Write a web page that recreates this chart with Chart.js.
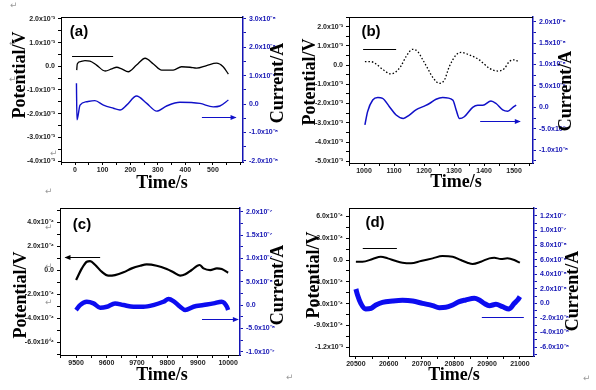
<!DOCTYPE html>
<html><head><meta charset="utf-8">
<script src="https://cdn.jsdelivr.net/npm/chart.js@4/dist/chart.umd.min.js"></script>
<style>
html,body{margin:0;padding:0;background:#fff;width:596px;height:390px;overflow:hidden;position:relative}
.p{position:absolute;width:298px;height:195px}
.mk{position:absolute;font:9px "DejaVu Sans";color:#9a9a9a;line-height:9px}
</style></head><body>
<div class="p" style="left:0;top:0"><canvas id="ca" width="298" height="195"></canvas></div>
<div class="p" style="left:298px;top:0"><canvas id="cb" width="298" height="195"></canvas></div>
<div class="p" style="left:0;top:195px"><canvas id="cc" width="298" height="195"></canvas></div>
<div class="p" style="left:298px;top:195px"><canvas id="cd" width="298" height="195"></canvas></div>
<span class="mk" style="left:10px;top:1px">↵</span>
<span class="mk" style="left:9px;top:39px">↵</span>
<span class="mk" style="left:9px;top:75px">↵</span>
<span class="mk" style="left:45px;top:110px">↵</span>
<span class="mk" style="left:50px;top:149px">↵</span>
<span class="mk" style="left:45px;top:187px">↵</span>
<span class="mk" style="left:45px;top:223px">↵</span>
<span class="mk" style="left:45px;top:262px">↵</span>
<span class="mk" style="left:45px;top:298px">↵</span>
<span class="mk" style="left:45px;top:336px">↵</span>
<span class="mk" style="left:286px;top:373px">↵</span>
<span class="mk" style="left:583px;top:374px">↵</span>
<script>
// ---------- Panel (a) ----------
const aPotTime = [6, 8, 20, 36, 54, 78, 109, 133, 151, 169, 193, 223, 254, 284, 314, 356, 386, 417, 441, 477, 513, 537, 556];
const aPotential = [-0.16e-3, 0.10e-3, 0.20e-3, 0.24e-3, 0.22e-3, 0.05e-3, -0.20e-3, -0.11e-3, -0.04e-3, -0.11e-3, -0.23e-3, 0.05e-3, 0.34e-3, 0.10e-3, -0.16e-3, -0.16e-3, -0.02e-3, -0.04e-3, -0.08e-3, 0.03e-3, 0.13e-3, -0.02e-3, -0.33e-3];
const aCurTime = [5, 7, 18, 42, 72, 103, 139, 163, 187, 223, 260, 296, 332, 380, 453, 501, 525, 556];
const aCurrent = [0.73e-8, -0.56e-8, -0.04e-8, 0.08e-8, 0.12e-8, -0.04e-8, -0.15e-8, -0.21e-8, -0.04e-8, 0.28e-8, 0.02e-8, -0.25e-8, -0.07e-8, 0.06e-8, 0.02e-8, -0.10e-8, -0.07e-8, 0.14e-8];
const aXTicks = [0, 100, 200, 300, 400, 500];
const aXLabels = ['0', '100', '200', '300', '400', '500'];
const aLeftTicks = [-4e-3, -3e-3, -2e-3, -1e-3, 0, 1e-3, 2e-3];
const aLeftLabels = ['-4.0x10⁻³', '-3.0x10⁻³', '-2.0x10⁻³', '-1.0x10⁻³', '0.0', '1.0x10⁻³', '2.0x10⁻³'];
const aRightTicks = [-2e-8, -1e-8, 0, 1e-8, 2e-8, 3e-8];
const aRightLabels = ['-2.0x10⁻⁸', '-1.0x10⁻⁸', '0.0', '1.0x10⁻⁸', '2.0x10⁻⁸', '3.0x10⁻⁸'];

// ---------- Panel (b) ----------
const bPotTime = [1003, 1023, 1040, 1062, 1090, 1107, 1123, 1140, 1162, 1179, 1196, 1212, 1229, 1251, 1268, 1284, 1307, 1323, 1351, 1384, 1418, 1446, 1468, 1484, 1501, 1512];
const bPotential = [0.18e-3, 0.18e-3, 0.06e-3, -0.22e-3, -0.46e-3, -0.34e-3, -0.05e-3, 0.44e-3, 0.82e-3, 0.70e-3, 0.27e-3, -0.17e-3, -0.64e-3, -0.95e-3, -0.77e-3, -0.08e-3, 0.53e-3, 0.66e-3, 0.53e-3, 0.27e-3, -0.17e-3, -0.31e-3, -0.17e-3, 0.18e-3, 0.27e-3, 0.21e-3];
const bCurTime = [1003, 1012, 1029, 1046, 1062, 1084, 1107, 1131, 1151, 1173, 1201, 1218, 1240, 1262, 1296, 1307, 1318, 1334, 1362, 1379, 1396, 1423, 1440, 1462, 1479, 1496, 1507];
const bCurrent = [-0.41e-8, -0.10e-8, 0.17e-8, 0.23e-8, 0.21e-8, 0.02e-8, -0.18e-8, -0.26e-8, -0.18e-8, -0.06e-8, 0.03e-8, 0.09e-8, 0.19e-8, 0.23e-8, 0.17e-8, -0.06e-8, -0.26e-8, -0.22e-8, 0.0, 0.05e-8, 0.05e-8, 0.15e-8, 0.09e-8, -0.06e-8, -0.09e-8, 0.0, 0.05e-8];
const bXTicks = [1000, 1100, 1200, 1300, 1400, 1500];
const bXLabels = ['1000', '1100', '1200', '1300', '1400', '1500'];
const bLeftTicks = [-5e-3, -4e-3, -3e-3, -2e-3, -1e-3, 0, 1e-3, 2e-3];
const bLeftLabels = ['-5.0x10⁻³', '-4.0x10⁻³', '-3.0x10⁻³', '-2.0x10⁻³', '-1.0x10⁻³', '0.0', '1.0x10⁻³', '2.0x10⁻³'];
const bRightTicks = [-1e-8, -0.5e-8, 0, 0.5e-8, 1e-8, 1.5e-8, 2e-8];
const bRightLabels = ['-1.0x10⁻⁸', '-5.0x10⁻⁹', '0.0', '5.0x10⁻⁹', '1.0x10⁻⁸', '1.5x10⁻⁸', '2.0x10⁻⁸'];

// ---------- Panel (c) ----------
const cPotTime = [9500, 9519, 9535, 9546, 9563, 9584, 9606, 9628, 9656, 9683, 9711, 9732, 9765, 9798, 9820, 9842, 9859, 9880, 9906, 9919, 9941, 9963, 9979, 10000];
const cPotential = [-0.83e-4, 0.14e-4, 0.69e-4, 0.75e-4, 0.42e-4, -0.14e-4, -0.47e-4, -0.42e-4, -0.19e-4, 0.14e-4, 0.36e-4, 0.47e-4, 0.36e-4, 0.08e-4, -0.19e-4, -0.47e-4, -0.36e-4, 0.0, 0.42e-4, 0.14e-4, 0.0, 0.14e-4, 0.08e-4, -0.22e-4];
const cCurTime = [9500, 9513, 9535, 9557, 9579, 9601, 9628, 9656, 9689, 9721, 9754, 9787, 9804, 9820, 9842, 9859, 9886, 9919, 9952, 9979, 9996, 10000];
const cCurrent = [-1.07e-8, 0, 0.71e-8, 0.36e-8, -0.57e-8, -0.36e-8, 0.36e-8, 0, -0.36e-8, -0.36e-8, 0, 0.71e-8, 1.29e-8, 0.86e-8, -0.36e-8, -1.07e-8, -0.36e-8, 0, 0.36e-8, 0.71e-8, -0.36e-8, -1.07e-8];
const cXTicks = [9500, 9600, 9700, 9800, 9900, 10000];
const cXLabels = ['9500', '9600', '9700', '9800', '9900', '10000'];
const cLeftTicks = [-6e-4, -4e-4, -2e-4, 0, 2e-4, 4e-4];
const cLeftLabels = ['-6.0x10⁻⁴', '-4.0x10⁻⁴', '-2.0x10⁻⁴', '0.0', '2.0x10⁻⁴', '4.0x10⁻⁴'];
const cRightTicks = [-1e-7, -5e-8, 0, 5e-8, 1e-7, 1.5e-7, 2e-7];
const cRightLabels = ['-1.0x10⁻⁷', '-5.0x10⁻⁸', '0.0', '5.0x10⁻⁸', '1.0x10⁻⁷', '1.5x10⁻⁷', '2.0x10⁻⁷'];

// ---------- Panel (d) ----------
const dPotTime = [20500, 20520, 20551, 20576, 20597, 20622, 20642, 20668, 20698, 20734, 20764, 20795, 20820, 20840, 20856, 20881, 20907, 20922, 20942, 20962, 20983, 21000];
const dPotential = [-0.23e-4, -0.23e-4, 0.14e-4, 0.46e-4, 0.23e-4, -0.14e-4, -0.37e-4, -0.46e-4, -0.14e-4, 0.23e-4, 0.55e-4, 0.46e-4, 0, -0.37e-4, -0.55e-4, -0.23e-4, 0.23e-4, 0.32e-4, 0.14e-4, 0.23e-4, 0, -0.37e-4];
const dCurTime = [20500, 20505, 20515, 20530, 20546, 20561, 20581, 20612, 20642, 20673, 20703, 20734, 20754, 20774, 20795, 20815, 20835, 20861, 20876, 20891, 20907, 20927, 20947, 20967, 20983, 20993, 21000];
const dCurrent = [1.97e-8, 1.14e-8, 0, -0.78e-8, -0.69e-8, -0.23e-8, 0.14e-8, 0.32e-8, 0.41e-8, 0.32e-8, 0, -0.32e-8, -0.59e-8, -0.55e-8, -0.23e-8, 0.23e-8, 0.46e-8, 0.69e-8, 0.46e-8, 0, -0.32e-8, -0.14e-8, -0.46e-8, -0.78e-8, 0, 0.46e-8, 0.92e-8];
const dXTicks = [20500, 20600, 20700, 20800, 20900, 21000];
const dXLabels = ['20500', '20600', '20700', '20800', '20900', '21000'];
const dLeftTicks = [-1.2e-3, -9e-4, -6e-4, -3e-4, 0, 3e-4, 6e-4];
const dLeftLabels = ['-1.2x10⁻³', '-9.0x10⁻⁴', '-6.0x10⁻⁴', '-3.0x10⁻⁴', '0.0', '3.0x10⁻⁴', '6.0x10⁻⁴'];
const dRightTicks = [-6e-8, -4e-8, -2e-8, 0, 2e-8, 4e-8, 6e-8, 8e-8, 1e-7, 1.2e-7];
const dRightLabels = ['-6.0x10⁻⁸', '-4.0x10⁻⁸', '-2.0x10⁻⁸', '0.0', '2.0x10⁻⁸', '4.0x10⁻⁸', '6.0x10⁻⁸', '8.0x10⁻⁸', '1.0x10⁻⁷', '1.2x10⁻⁷'];

const BLUE_AXIS = '#1414b4';

function tickValues(majors, min, max) {
  const h = (majors[1] - majors[0]) / 2, out = [];
  let k = Math.ceil((min - majors[0]) / h - 1e-9);
  for (;; k++) {
    const v = +(majors[0] + k * h).toPrecision(12);
    if (v > max + Math.abs(h) * 1e-9) break;
    out.push(v);
  }
  return out;
}
function labelFor(majors, labels, v) {
  const h = Math.abs(majors[1] - majors[0]);
  const i = majors.findIndex(m => Math.abs(m - v) < h * 1e-3);
  return i >= 0 ? labels[i] : '';
}

const panelText = {
  id: 'panelText',
  afterDraw(chart, args, o) {
    const ctx = chart.ctx, ca = chart.chartArea;
    ctx.save();
    // top frame line
    ctx.strokeStyle = '#000'; ctx.lineWidth = 1;
    ctx.beginPath(); ctx.moveTo(ca.left, ca.top + 0.5); ctx.lineTo(ca.right, ca.top + 0.5); ctx.stroke();
    ctx.fillStyle = '#000'; ctx.textAlign = 'center'; ctx.textBaseline = 'middle';
    ctx.font = 'bold 18px "Liberation Serif"';
    ctx.save(); ctx.translate(o.pot[0], o.pot[1]); ctx.rotate(-Math.PI / 2); ctx.fillText('Potential/V', 0, 0); ctx.restore();
    ctx.save(); ctx.translate(o.cur[0], o.cur[1]); ctx.rotate(-Math.PI / 2); ctx.fillText('Current/A', 0, 0); ctx.restore();
    ctx.font = 'bold 18px "Liberation Serif"';
    ctx.fillText('Time/s', o.time[0], o.time[1]);
    ctx.font = 'bold 15px "Liberation Sans"';
    ctx.fillText(o.letter, o.let[0], o.let[1]);
    // arrows (data coordinates through the scales)
    const xs = chart.scales.x;
    (o.arrows || []).forEach(a => {
      const ys = chart.scales[a.axis];
      const x1 = xs.getPixelForValue(a.x1), x2 = xs.getPixelForValue(a.x2), y = Math.round(ys.getPixelForValue(a.y)) + 0.5;
      ctx.strokeStyle = a.color; ctx.fillStyle = a.color; ctx.lineWidth = 1.2;
      ctx.beginPath(); ctx.moveTo(x1, y); ctx.lineTo(x2, y); ctx.stroke();
      if (a.head) {
        const d = x2 > x1 ? 1 : -1;
        ctx.beginPath(); ctx.moveTo(x2 + d * 1, y); ctx.lineTo(x2 - d * 5, y - 2.5); ctx.lineTo(x2 - d * 5, y + 2.5); ctx.closePath(); ctx.fill();
      }
    });
    ctx.restore();
  }
};

function makePanel(id, P) {
  const tickFont = {family: 'Liberation Sans', size: 7, weight: 'bold'};
  new Chart(document.getElementById(id), {
    type: 'line',
    data: {
      datasets: [
        {data: P.pt.map((t, i) => ({x: t, y: P.pv[i]})), yAxisID: 'y', borderColor: '#000', borderWidth: P.pw, borderDash: P.pdash || [],
         pointRadius: 0, cubicInterpolationMode: 'monotone', fill: false},
        {data: P.ct.map((t, i) => ({x: t, y: P.cv[i]})), yAxisID: 'y1', borderColor: P.blue, borderWidth: P.cw,
         pointRadius: 0, cubicInterpolationMode: 'monotone', fill: false}
      ]
    },
    options: {
      responsive: false, animation: false, devicePixelRatio: 1,
      layout: {padding: {top: P.top, left: 0, right: 0, bottom: 0}},
      plugins: {legend: {display: false}, tooltip: {enabled: false}, panelText: P.text},
      scales: {
        x: {
          type: 'linear', min: P.xr[0], max: P.xr[1], bounds: 'data',
          afterBuildTicks: s => { s.ticks = tickValues(P.xt, P.xr[0], P.xr[1]).map(v => ({value: v})); },
          afterFit: s => { s.height = P.xh; },
          ticks: {autoSkip: false, maxRotation: 0, padding: 1, font: tickFont, color: '#222',
                  callback: v => labelFor(P.xt, P.xl, v)},
          grid: {display: true, drawOnChartArea: false, tickLength: 3, color: '#000'},
          border: {display: true, color: '#000', width: 1}
        },
        y: {
          type: 'linear', position: 'left', min: P.yr[0], max: P.yr[1], bounds: 'data',
          afterBuildTicks: s => { s.ticks = tickValues(P.yt, P.yr[0], P.yr[1]).map(v => ({value: v})); },
          afterFit: s => { s.width = P.lw; },
          ticks: {autoSkip: false, padding: 3, font: tickFont, color: '#222',
                  callback: v => labelFor(P.yt, P.yl, v)},
          grid: {display: true, drawOnChartArea: false, tickLength: 3, color: '#000'},
          border: {display: true, color: '#000', width: 1}
        },
        y1: {
          type: 'linear', position: 'right', min: P.y1r[0], max: P.y1r[1], bounds: 'data',
          afterBuildTicks: s => { s.ticks = tickValues(P.y1t, P.y1r[0], P.y1r[1]).map(v => ({value: v})); },
          afterFit: s => { s.width = P.rw; },
          ticks: {autoSkip: false, padding: 3, font: tickFont, color: BLUE_AXIS,
                  callback: v => labelFor(P.y1t, P.y1l, v)},
          grid: {display: true, drawOnChartArea: false, tickLength: 3, color: BLUE_AXIS},
          border: {display: true, color: BLUE_AXIS, width: 1.5}
        }
      }
    },
    plugins: [panelText]
  });
}

makePanel('ca', {
  pt: aPotTime, pv: aPotential, ct: aCurTime, cv: aCurrent, pw: 1.3, cw: 1.4, blue: '#1010c8',
  xt: aXTicks, xl: aXLabels, yt: aLeftTicks, yl: aLeftLabels, y1t: aRightTicks, y1l: aRightLabels,
  xr: [-51, 609], yr: [-4.04e-3, 2.08e-3], y1r: [-2.04e-8, 3.06e-8],
  top: 17, lw: 61, rw: 55, xh: 33,
  text: {pot: [20, 75], cur: [278, 83], time: [162, 183], let: [79, 32], letter: '(a)',
    arrows: [{x1: 138, x2: -11, y: 0.44e-3, axis: 'y', color: '#000', head: false},
             {x1: 460, x2: 582, y: -0.46e-8, axis: 'y1', color: '#1010c8', head: true}]}
});
makePanel('cb', {
  pt: bPotTime, pv: bPotential, ct: bCurTime, cv: bCurrent, pw: 1.3, pdash: [1.5, 2], cw: 1.5, blue: '#1010c8',
  xt: bXTicks, xl: bXLabels, yt: bLeftTicks, yl: bLeftLabels, y1t: bRightTicks, y1l: bRightLabels,
  xr: [950, 1563], yr: [-5.09e-3, 2.5e-3], y1r: [-1.30e-8, 2.11e-8],
  top: 17, lw: 51, rw: 63, xh: 32,
  text: {pot: [12, 82], cur: [268, 91], time: [158, 182], let: [73, 32], letter: '(b)',
    arrows: [{x1: 1107, x2: 997, y: 0.84e-3, axis: 'y', color: '#000', head: false},
             {x1: 1387, x2: 1519, y: -0.32e-8, axis: 'y1', color: '#1010c8', head: true}]}
});
makePanel('cc', {
  pt: cPotTime, pv: cPotential, ct: cCurTime, cv: cCurrent, pw: 2.2, cw: 4.5, blue: '#0c0cf0',
  xt: cXTicks, xl: cXLabels, yt: cLeftTicks, yl: cLeftLabels, y1t: cRightTicks, y1l: cRightLabels,
  xr: [9447, 10039], yr: [-7.08e-4, 5.17e-4], y1r: [-1.07e-7, 2.08e-7],
  top: 13, lw: 60, rw: 58, xh: 35,
  text: {pot: [21, 100], cur: [278, 90], time: [162, 180], let: [82, 30], letter: '(c)',
    arrows: [{x1: 9579, x2: 9465, y: 1.08e-4, axis: 'y', color: '#000', head: true},
             {x1: 9914, x2: 10032, y: -3.0e-8, axis: 'y1', color: '#1010c8', head: true}]}
});
makePanel('cd', {
  pt: dPotTime, pv: dPotential, ct: dCurTime, cv: dCurrent, pw: 2, cw: 5, blue: '#0c0cf0',
  xt: dXTicks, xl: dXLabels, yt: dLeftTicks, yl: dLeftLabels, y1t: dRightTicks, y1l: dRightLabels,
  xr: [20479, 21043], yr: [-1.319e-3, 7.15e-4], y1r: [-7.23e-8, 1.309e-7],
  top: 13, lw: 51, rw: 62, xh: 34,
  text: {pot: [16, 80], cur: [275, 96], time: [156, 180], let: [77, 28], letter: '(d)',
    arrows: [{x1: 20625, x2: 20521, y: 1.65e-4, axis: 'y', color: '#000', head: false},
             {x1: 20884, x2: 21012, y: -1.88e-8, axis: 'y1', color: '#1010c8', head: false}]}
});
</script>
</body></html>
